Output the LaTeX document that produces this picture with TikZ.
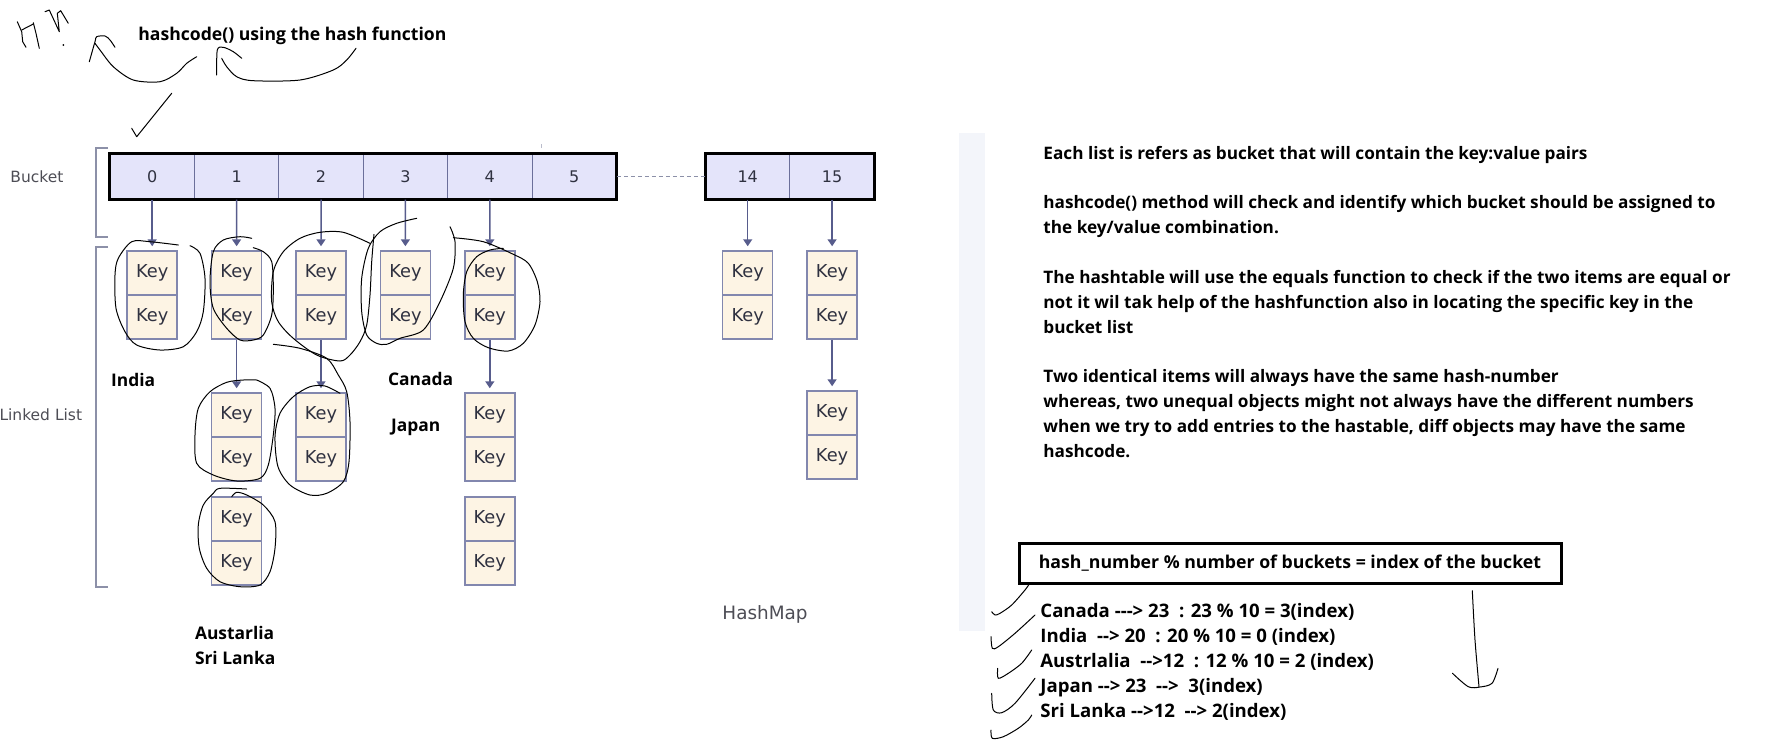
\documentclass[tikz,border=0pt]{standalone}
\usepackage{fontspec}
\usetikzlibrary{arrows.meta}
\newfontfamily\dvfont{DejaVu Sans}
\newfontfamily\osfont{Open Sans}
\definecolor{bucketfill}{HTML}{E4E4FA}
\definecolor{keyfill}{HTML}{FDF4E4}
\definecolor{keyborder}{HTML}{8287AE}
\definecolor{arrowcol}{HTML}{575C8C}
\definecolor{cellline}{HTML}{6B6F9A}
\definecolor{bracketcol}{HTML}{8C90A8}
\definecolor{panelcol}{HTML}{F3F5FA}
\definecolor{keytext}{HTML}{2F3140}
\definecolor{labelgray}{HTML}{4D4D55}
\tikzset{
 keybox/.style={rectangle, draw=keyborder, fill=keyfill, line width=0.75pt, minimum width=25pt, minimum height=22pt, inner sep=0pt, font=\dvfont\fontsize{8.9}{10}\selectfont, text=keytext},
 bcell/.style={rectangle, draw=cellline, fill=bucketfill, line width=0.5pt, minimum width=42.2pt, minimum height=22.5pt, inner sep=0pt, font=\dvfont\fontsize{8}{10}\selectfont, text=keytext},
 ptr/.style={draw=arrowcol, line width=0.75pt, -{Triangle[width=4.5pt,length=3.5pt]}, shorten >=2pt},
 hand/.style={draw=black, line width=0.5pt, line join=round, line cap=round},
 hw/.style={font=\osfont\bfseries\fontsize{8.7}{10}\selectfont, anchor=base west, inner sep=0pt},
 note/.style={font=\osfont\bfseries\fontsize{8.6}{10}\selectfont, anchor=base west, inner sep=0pt},
 example/.style={font=\osfont\bfseries\fontsize{9.3}{11}\selectfont, anchor=base west, inner sep=0pt},
 graylab/.style={font=\dvfont\fontsize{7.75}{9}\selectfont, text=labelgray, inner sep=0pt},
 bracket/.style={draw=bracketcol, line width=1pt},
}
\begin{document}
\begin{tikzpicture}[x=0.5pt,y=-0.5pt]
\useasboundingbox (0,0) rectangle (1773,741);
% light panel
\fill[panelcol] (959,133) rectangle (985,631);
\draw[draw=bracketcol!60, line width=0.5pt] (541,144) -- (541,148);
% bucket array
\foreach \i in {0,...,5} \node[bcell] (b\i) at ({152.2+84.4*\i},176.5) {\i};
\node[bcell] (b14) at (747.7,176.5) {14};
\node[bcell] (b15) at (832.1,176.5) {15};
\draw[line width=1.5pt] (b0.north west) rectangle (b5.south east);
\draw[line width=1.5pt] (b14.north west) rectangle (b15.south east);
\draw[draw=bracketcol, line width=0.5pt, dash pattern=on 2pt off 1.5pt] (b5.east) -- (b14.west);
% brackets and side labels
\draw[bracket] (108,147.5) -- (96,147.5) -- (96,236.7) -- (108,236.7);
\draw[bracket] (108,246.7) -- (96,246.7) -- (96,587.3) -- (108,587.3);
\node[graylab] (lbucket) at (37,176.5) {Bucket};
\node[graylab, anchor=east] (llist) at (82.5,415) {Linked List};
% key boxes
\node[keybox] (k0a) at (152.2,273) {Key};
\node[keybox] (k0b) at (152.2,317) {Key};
\node[keybox] (k1a) at (236.6,273) {Key};
\node[keybox] (k1b) at (236.6,317) {Key};
\node[keybox] (k1c) at (236.6,415) {Key};
\node[keybox] (k1d) at (236.6,459) {Key};
\node[keybox] (k1e) at (236.6,519) {Key};
\node[keybox] (k1f) at (236.6,563) {Key};
\node[keybox] (k2a) at (321,273) {Key};
\node[keybox] (k2b) at (321,317) {Key};
\node[keybox] (k2c) at (321,415) {Key};
\node[keybox] (k2d) at (321,459) {Key};
\node[keybox] (k3a) at (405.4,273) {Key};
\node[keybox] (k3b) at (405.4,317) {Key};
\node[keybox] (k4a) at (489.8,273) {Key};
\node[keybox] (k4b) at (489.8,317) {Key};
\node[keybox] (k4c) at (489.8,415) {Key};
\node[keybox] (k4d) at (489.8,459) {Key};
\node[keybox] (k4e) at (489.8,519) {Key};
\node[keybox] (k4f) at (489.8,563) {Key};
\node[keybox] (k14a) at (747.7,273) {Key};
\node[keybox] (k14b) at (747.7,317) {Key};
\node[keybox] (k15a) at (832.1,273) {Key};
\node[keybox] (k15b) at (832.1,317) {Key};
\node[keybox] (k15c) at (832.1,413) {Key};
\node[keybox] (k15d) at (832.1,457) {Key};
% pointers
\foreach \c in {0,1,2,3,4,14,15} \draw[ptr] (b\c.south) -- (k\c a.north);
\draw[ptr] (k1b.south) -- (k1c.north);
\draw[ptr] (k2b.south) -- (k2c.north);
\draw[ptr] (k4b.south) -- (k4c.north);
\draw[ptr] (k15b.south) -- (k15c.north);
\node[font=\dvfont\fontsize{9.2}{10}\selectfont, text=labelgray] (hm) at (765,614) {HashMap};
% handwritten labels
\node[hw, font=\osfont\bfseries\fontsize{8.8}{10}\selectfont] (title) at (138,40) {hashcode() using the hash function};
\node[hw] (lindia) at (110.7,386) {India};
\node[hw] (lcanada) at (387.7,385.3) {Canada};
\node[hw] (ljapan) at (390.7,431) {Japan};
\node[hw] (laus) at (194.6,639.3) {Austarlia};
\node[hw] (lsri) at (194.6,664.3) {Sri Lanka};
% right notes
\node[note] (t1) at (1043,159.5) {Each list is refers as bucket that will contain the key:value pairs};
\node[note] (t2) at (1043,208.7) {hashcode() method will check and identify which bucket should be assigned to};
\node[note] (t3) at (1043,233.5) {the key/value combination.};
\node[note] (t4) at (1043,283.5) {The hashtable will use the equals function to check if the two items are equal or};
\node[note] (t5) at (1043,308.5) {not it wil tak help of the hashfunction also in locating the specific key in the};
\node[note] (t6) at (1043,333.5) {bucket list};
\node[note] (t7) at (1043,382.5) {Two identical items will always have the same hash-number};
\node[note] (t8) at (1043,407.5) {whereas, two unequal objects might not always have the different numbers};
\node[note] (t9) at (1043,432.5) {when we try to add entries to the hastable, diff objects may have the same};
\node[note] (t10) at (1043,457.5) {hashcode.};
% formula
\node[draw, line width=1.5pt, minimum width=271pt, minimum height=20pt, inner sep=0pt, font=\osfont\bfseries\fontsize{8.85}{10}\selectfont] (formula) at (1290,563) {hash\_number \% number of buckets = index of the bucket};
\node[example] (e1) at (1040,617) {Canada -{}-{}-> 23\ \ : 23 \% 10 = 3(index)};
\node[example] (e2) at (1040,642) {India\ \ -{}-> 20\ \ : 20 \% 10 = 0 (index)};
\node[example] (e3) at (1040,667) {Austrlalia\ \ -{}->12\ \ : 12 \% 10 = 2 (index)};
\node[example] (e4) at (1040,692) {Japan -{}-> 23\ \ -{}->\ \ 3(index)};
\node[example] (e5) at (1040,717) {Sri Lanka -{}->12\ \ -{}-> 2(index)};
% handwriting: HW
\draw[hand] (17.3,21.7) -- (21.7,31.7) -- (22.7,41.7) -- (26,47.3);
\draw[hand] (21.7,30) -- (33.3,24);
\draw[hand] (33.3,22.7) -- (36,33.3) -- (39.3,48.3);
\draw[hand] (45,11.7) -- (49.3,10) -- (59.3,31.7) -- (57.3,13.3) -- (60.7,10.7) -- (68.3,23.3);
\fill (63.3,45) circle (0.5pt);
% curved arrows round the title
\draw[hand] plot[smooth] coordinates {(196.7,56.7) (186.7,63.3) (176.7,73.3) (160,81.7) (133.3,80) (113.3,66.7) (100,50) (95,43.3)};
\draw[hand] plot[smooth] coordinates {(89.3,61.7) (95,41.7) (96.7,36.7) (105,36) (110,40) (115,47.3)};
\draw[hand] plot[smooth] coordinates {(356,48.3) (346.7,60) (333.3,70) (300,80) (253.3,80.7) (236.7,76.7) (226.7,66.7) (221.7,58.3)};
\draw[hand] plot[smooth] coordinates {(216.7,75) (217.3,50) (223.3,47.3) (233.3,51.7) (241.7,58.3)};
\draw[hand] (171.7,93.3) -- (136.7,136.7) -- (131.7,128.3);
% loops around the lists
\draw[hand] plot[smooth] coordinates {(190,245.7) (200,253.3) (205,278.3) (203.3,311.7) (196.7,331.7) (183.3,346.7) (160,350) (136.7,345) (125,331.7) (116,308.3) (115,275) (118.3,258.3) (131.7,241.7) (150,241.7) (178.3,245)};
\draw[hand] plot[smooth] coordinates {(251.7,238.3) (240,236.7) (223.3,240) (213.3,251.7) (210,281.7) (213.3,308.3) (226.7,328.3) (240,340) (253.3,340) (263.3,335) (271.7,315) (273.3,288.3) (271.7,261.7) (263.3,251.7) (253.3,247.7)};
\draw[hand] plot[smooth] coordinates {(256.7,380) (270,388.3) (275,408.3) (273.3,435) (268.3,465) (260,478.3) (236.7,481) (213.3,475) (196.7,463.3) (195,435) (198.3,408.3) (210,391.7) (226.7,382.3) (243.3,380) (256.7,380)};
\draw[hand] plot[smooth] coordinates {(231.7,496.7) (236.7,492.3) (246.7,495) (263.3,505) (275,521.7) (275,548.3) (270,571.7) (260,585) (240,586.7) (220,581.7) (206.7,568.3) (199.3,548.3) (198.3,525) (203.3,505) (213.3,493.3) (220,488.3) (246.7,489)};
\draw[hand] plot[smooth] coordinates {(370,243.3) (343.3,232.3) (320,232.3) (300,238.3) (283.3,251.7) (273.3,271.7) (271.7,301.7) (278.3,321.7) (293.3,338.3) (316.7,355) (340,361) (350,355) (360,341.7) (366.7,325) (370,295) (371.7,261.7) (374,234.3)};
\draw[hand] plot[smooth] coordinates {(273.3,344.3) (300,348.3) (326.7,358.3) (338.3,375) (346.7,391.7) (350,421.7) (349,461.7) (343.3,481.7) (326.7,493.3) (310,495) (290,485) (278,466.7) (275,436.7) (280,413.3) (293.3,396.7) (310,386.7) (325,386) (340,393.3)};
\draw[hand] plot[smooth] coordinates {(416.7,218.3) (396.7,223.3) (380,231.7) (368.3,248.3) (361.7,278.3) (361.7,311.7) (366.7,335) (376.7,343.3) (386.7,344.3) (400,338.3) (423.3,330) (440,301.7) (453.3,268.3) (455,241.7) (450,226.7)};
\draw[hand] plot[smooth] coordinates {(453.3,237.7) (483.3,241.7) (513.3,254.3) (528.3,263.3) (537.3,281.7) (540,301.7) (535,325) (523.3,343.3) (508.3,351) (488.3,347.7) (473.3,338.3) (465,321.7) (463.3,295) (466.7,271.7) (476.7,256.7) (490,250) (503.3,248.3)};
% ticks by the examples
\draw[hand] plot[smooth] coordinates {(991.7,611.7) (995,615) (1000,613.3) (1011.7,605) (1025,590) (1029.5,583.5)};
\draw[hand] plot[smooth] coordinates {(991,636.7) (992.3,648.3) (998.3,646.7) (1015,633.3) (1035,615)};
\draw[hand] plot[smooth] coordinates {(997.7,668.3) (998.3,678.3) (1008.3,673.3) (1021.7,663.3) (1031.7,650)};
\draw[hand] plot[smooth] coordinates {(991.7,693.3) (993.3,710) (1001.7,712.7) (1015,703.3) (1035,678.3)};
\draw[hand] plot[smooth] coordinates {(991,730) (992.3,738.3) (1003.3,736.7) (1018.3,728.3) (1028.3,720) (1031.7,715)};
% down arrow
\draw[hand] plot[smooth] coordinates {(1472.3,590.7) (1475,640) (1479,686.7)};
\draw[hand] plot[smooth] coordinates {(1452.5,673.3) (1468.3,686.7) (1480,687) (1492,683.3) (1498,668.3)};
\end{tikzpicture}
\end{document}
